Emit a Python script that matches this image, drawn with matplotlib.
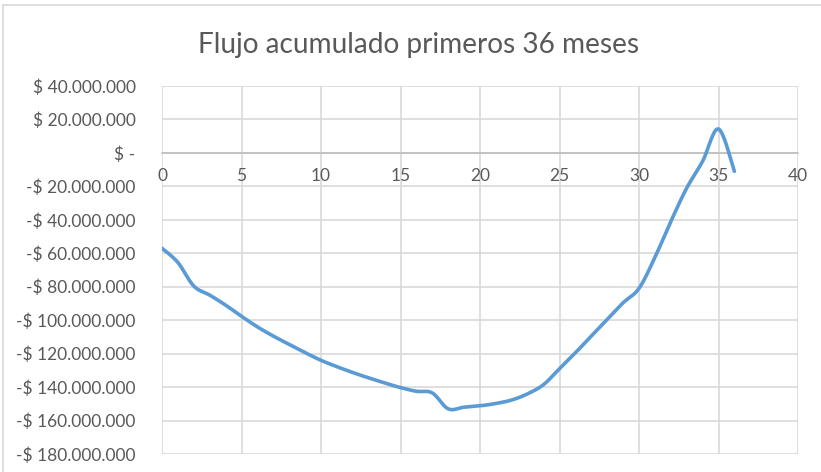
import numpy as np
import matplotlib
matplotlib.use('Agg')
import matplotlib.pyplot as plt
from matplotlib.lines import Line2D
from matplotlib.ticker import FuncFormatter, MultipleLocator

plt.rcParams['font.family'] = ['Lato', 'DejaVu Sans']

# flujo acumulado por mes (millones de pesos)
meses = list(range(0, 37))
flujo_mm = [-57.0, -65.5, -79.6, -85.0, -91.0, -97.7, -104.0, -109.5, -114.5,
            -119.4, -124.0, -127.8, -131.3, -134.5, -137.5, -140.3, -142.5,
            -143.5, -153.0, -152.0, -151.2, -149.8, -147.7, -144.0, -138.5,
            -129.0, -119.5, -109.5, -99.5, -89.6, -81.0, -62.5, -41.0, -21.0,
            -5.0, 14.3, -11.0]
flujo = [v * 1e6 for v in flujo_mm]

titulo = 'Flujo acumulado primeros 36 meses'
gris_texto = '#595959'
gris_grilla = '#D9D9D9'
azul = '#5B9BD5'


def suavizar(x, y, n=20):
    # curva suave tipo Excel (Catmull-Rom por tramos)
    x = np.asarray(x, float)
    y = np.asarray(y, float)
    px = np.concatenate([[x[0]], x, [x[-1]]])
    py = np.concatenate([[y[0]], y, [y[-1]]])
    xs, ys = [], []
    t = np.linspace(0, 1, n, endpoint=False)
    for i in range(1, len(px) - 2):
        x0, x1, x2, x3 = px[i - 1], px[i], px[i + 1], px[i + 2]
        y0, y1, y2, y3 = py[i - 1], py[i], py[i + 1], py[i + 2]
        c1x, c1y = x1 + (x2 - x0) / 6, y1 + (y2 - y0) / 6
        c2x, c2y = x2 - (x3 - x1) / 6, y2 - (y3 - y1) / 6
        b0, b1, b2, b3 = (1 - t) ** 3, 3 * t * (1 - t) ** 2, 3 * t ** 2 * (1 - t), t ** 3
        xs.append(b0 * x1 + b1 * c1x + b2 * c2x + b3 * x2)
        ys.append(b0 * y1 + b1 * c1y + b2 * c2y + b3 * y2)
    xs.append([x[-1]])
    ys.append([y[-1]])
    return np.concatenate(xs), np.concatenate(ys)


def pesos(v, pos):
    if abs(v) < 1:
        return '$ -'
    s = '{:,.0f}'.format(abs(v)).replace(',', '.')
    return ('-$ ' if v < 0 else '$ ') + s


fig = plt.figure(figsize=(8.21, 4.72), dpi=100)
ax = fig.add_axes([162 / 821, 1 - 454 / 472, 636 / 821, 368 / 472])

sx, sy = suavizar(meses, flujo)
ax.plot(sx, sy, color=azul, lw=2.6, solid_capstyle='round', zorder=3)

ax.set_xlim(0, 40)
ax.set_ylim(-180e6, 40e6)
ax.xaxis.set_major_locator(MultipleLocator(5))
ax.yaxis.set_major_locator(MultipleLocator(20e6))
ax.yaxis.set_major_formatter(FuncFormatter(pesos))

ax.grid(True, color=gris_grilla, lw=1.2)
ax.set_axisbelow(True)
for lado in ['top', 'right', 'left']:
    ax.spines[lado].set_visible(False)
ax.spines['bottom'].set_position(('data', 0))
ax.spines['bottom'].set_color('#BFBFBF')
ax.spines['bottom'].set_linewidth(1.2)

ax.tick_params(axis='both', length=0, colors=gris_texto, labelsize=12.5)
ax.tick_params(axis='y', pad=19)
ax.tick_params(axis='x', pad=11)

fig.text(419 / 821, 1 - 45 / 472, titulo, ha='center', va='center',
         fontsize=20.2, color=gris_texto)

# marco del area del grafico
fig.add_artist(Line2D([3 / 821, 1.0], [1 - 5 / 472, 1 - 5 / 472],
                      transform=fig.transFigure, color=gris_grilla, lw=1.2))
fig.add_artist(Line2D([3 / 821, 3 / 821], [0, 1 - 5 / 472],
                      transform=fig.transFigure, color=gris_grilla, lw=1.2))

fig.savefig('out.png', dpi=100)
